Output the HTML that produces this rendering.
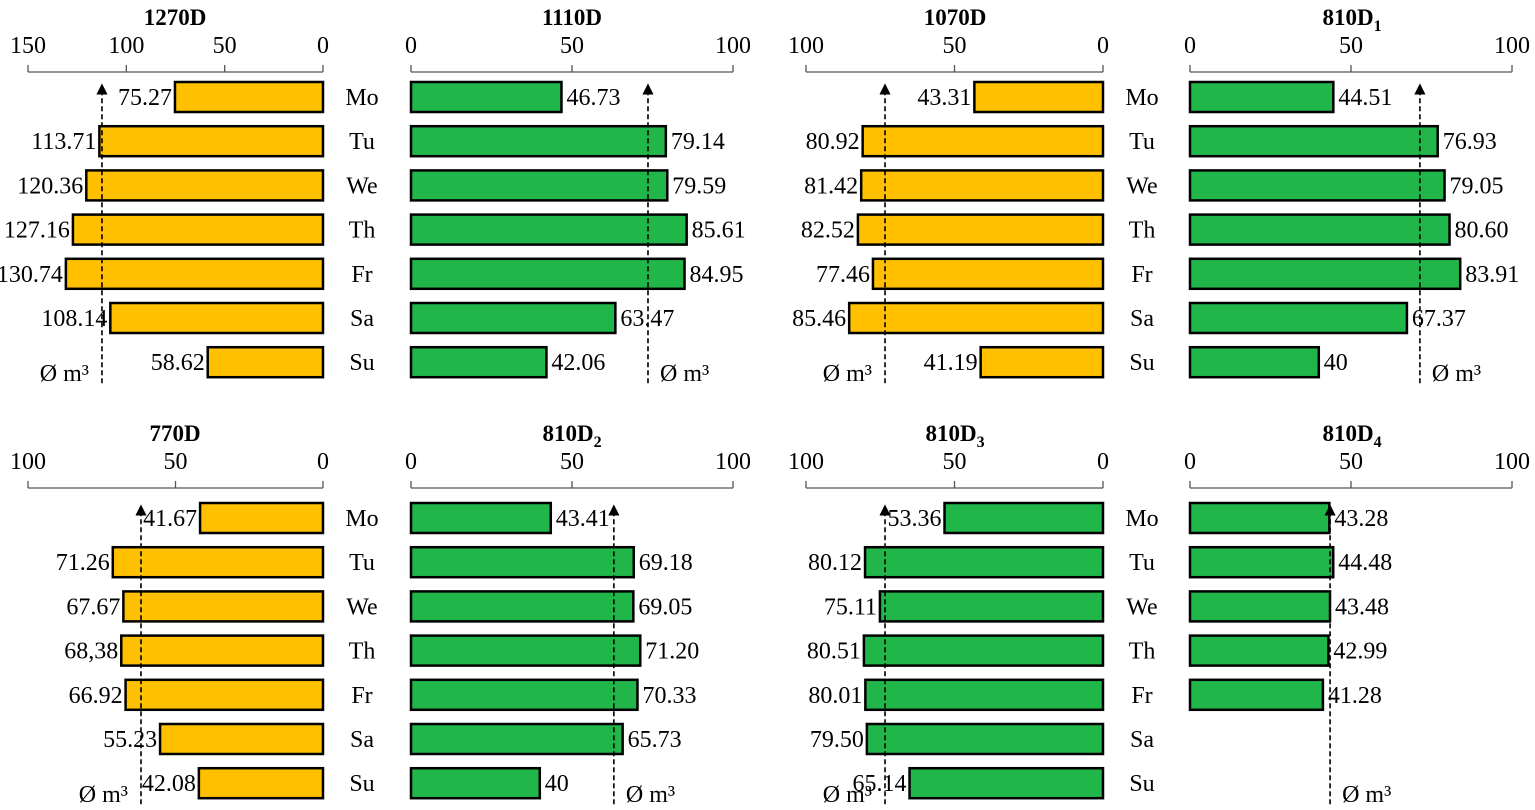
<!DOCTYPE html>
<html><head><meta charset="utf-8">
<style>
html,body{margin:0;padding:0;background:#fff;}
svg{display:block;font-family:"Liberation Serif",serif;}
</style></head>
<body>
<svg id="chart" width="1535" height="810" viewBox="0 0 1535 810" xmlns="http://www.w3.org/2000/svg">
<defs>
<marker id="arr" viewBox="0 0 10 10" refX="5" refY="5" markerWidth="7" markerHeight="9" orient="auto"><path d="M0,0 L10,5 L0,10 z" fill="#000"/></marker>
</defs>
</svg>
<script>
const days = ["Mo","Tu","We","Th","Fr","Sa","Su"];
const titles = ["1270D","1110D","1070D","810D","770D","810D","810D","810D"];
const titleSubs = ["","","","1","","2","3","4"];
const v1270D = [75.27,113.71,120.36,127.16,130.74,108.14,58.62];
const v1110D = [46.73,79.14,79.59,85.61,84.95,63.47,42.06];
const v1070D = [43.31,80.92,81.42,82.52,77.46,85.46,41.19];
const v810D1 = [44.51,76.93,79.05,80.60,83.91,67.37,40];
const v770D = [41.67,71.26,67.67,68.38,66.92,55.23,42.08];
const v810D2 = [43.41,69.18,69.05,71.20,70.33,65.73,40];
const v810D3 = [53.36,80.12,75.11,80.51,80.01,79.50,65.14];
const v810D4 = [43.28,44.48,43.48,42.99,41.28,null,null];
const labelOverrides770D = [null,null,null,"68,38",null,null,null];
const means = [112.4,73.6,73.4,71.4,61.7,63.0,73.4,43.5];
const ticks150 = [0,50,100,150];
const ticks100 = [0,50,100];

const series = [v1270D,v1110D,v1070D,v810D1,v770D,v810D2,v810D3,v810D4];
const overrides = [null,null,null,null,labelOverrides770D,null,null,null];
const YEL="#ffc000", GRN="#21b64a";
const panels = [
 {x0:323,k:1.985,dir:-1,ticks:ticks150,col:YEL,row:0,tx:175},
 {x0:411,k:3.22,dir:1,ticks:ticks100,col:GRN,row:0,tx:572},
 {x0:1103,k:2.97,dir:-1,ticks:ticks100,col:YEL,row:0,tx:955},
 {x0:1190,k:3.22,dir:1,ticks:ticks100,col:GRN,row:0,tx:1352},
 {x0:323,k:2.95,dir:-1,ticks:ticks100,col:YEL,row:1,tx:175},
 {x0:411,k:3.22,dir:1,ticks:ticks100,col:GRN,row:1,tx:572},
 {x0:1103,k:2.97,dir:-1,ticks:ticks100,col:GRN,row:1,tx:955},
 {x0:1190,k:3.22,dir:1,ticks:ticks100,col:GRN,row:1,tx:1352}
];
const svg=document.getElementById('chart');
const NS="http://www.w3.org/2000/svg";
function mk(tag,attrs,parent){const e=document.createElementNS(NS,tag);for(const a in attrs)e.setAttribute(a,attrs[a]);(parent||svg).appendChild(e);return e;}
const STEP=44.2, BH=30, FS=24;
function fmt(v){return Number.isInteger(v)?String(v):v.toFixed(2);}

panels.forEach((p,i)=>{
  const axisY = p.row===0?72:488;
  const firstY = p.row===0?97:518;
  const maxT=p.ticks[p.ticks.length-1];
  const sx = v=>p.x0+p.dir*v*(p.dir<0&&maxT===150?295/150:p.k);
  const g=mk('g',{});
  
  
  const t=mk('text',{x:p.tx,y:axisY-47,'text-anchor':'middle','font-size':23,'font-weight':'bold'},g);
  
  
  t.textContent=titles[i];
  if(titleSubs[i]){const s=mk('tspan',{'font-size':16,dy:6},t);s.textContent=titleSubs[i];}
  const ax=mk('line',{x1:sx(0),x2:sx(maxT),y1:axisY,y2:axisY,stroke:'#555','stroke-width':1.3},g);
  
  
  p.ticks.forEach(tv=>{
    const tk=mk('line',{x1:sx(tv),x2:sx(tv),y1:axisY,y2:axisY-7,stroke:'#555','stroke-width':1.3},g);
    
    
    const tl=mk('text',{x:sx(tv),y:axisY-19,'text-anchor':'middle','font-size':FS},g);
    
    
    tl.textContent=String(tv);
  });
  series[i].forEach((v,d)=>{
    if(v===null)return;
    const cy=firstY+d*STEP;
    const xa=sx(0), xb=sx(v);
    const r=mk('rect',{x:Math.min(xa,xb),y:cy-BH/2,width:Math.abs(xb-xa),height:BH,fill:p.col,stroke:'#000','stroke-width':2.5},g);
    
    
    const lab=(overrides[i]&&overrides[i][d])||fmt(v);
    const tl=mk('text',{x:p.dir<0?xb-3:xb+5,y:cy+8,'text-anchor':p.dir<0?'end':'start','font-size':FS},g);
    
    
    tl.textContent=lab;
  });
  if(p.dir<0){
    const dx=i%4===0?362:1142;
    days.forEach((dd,d)=>{
      const tl=mk('text',{x:dx,y:firstY+d*STEP+8,'text-anchor':'middle','font-size':FS},g);
      
      
      tl.textContent=dd;
    });
  }
  const mx=sx(means[i]);
  const suY=firstY+6*STEP;
  const ml=mk('line',{x1:mx,x2:mx,y1:suY+21,y2:firstY-8,stroke:'#000','stroke-width':1.6,'stroke-dasharray':'5,3','marker-end':'url(#arr)'},g);
  
  
  const mt=mk('text',{x:p.dir<0?mx-13:mx+12,y:suY+19,'text-anchor':p.dir<0?'end':'start','font-size':FS},g);
  
  
  mt.textContent='Ø m³';
});
</script>
</body></html>
